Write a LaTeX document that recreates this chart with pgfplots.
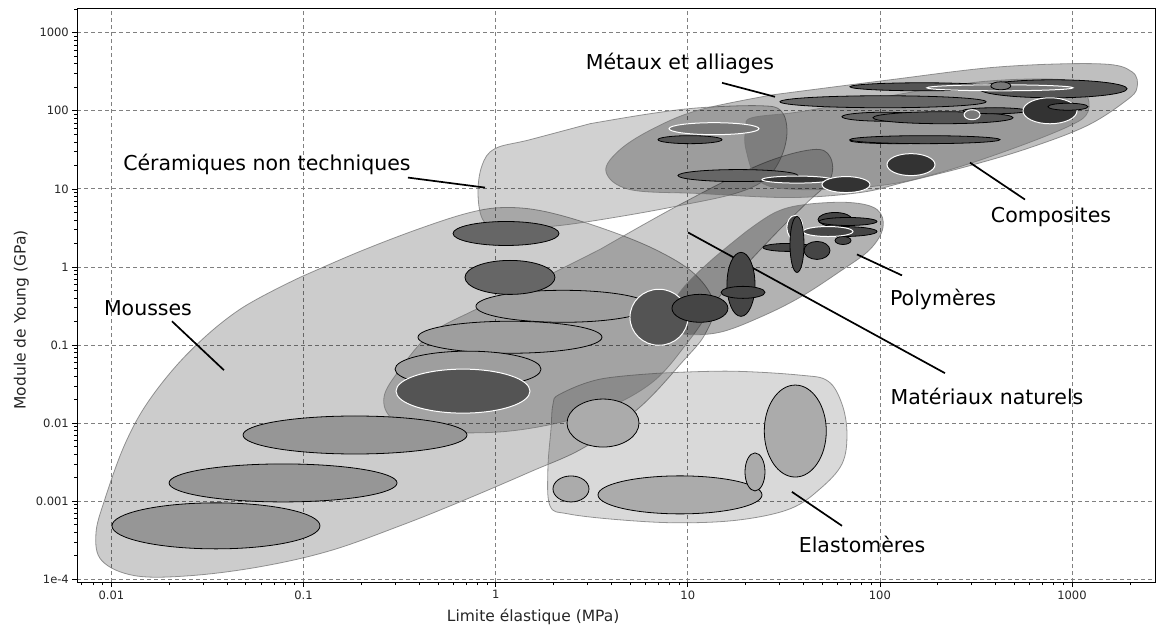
\documentclass[border=0pt]{standalone}
\usepackage{pgfplots}
\pgfplotsset{compat=1.18}
\usepackage{fontspec}
\setmainfont{DejaVu Sans}
\newcommand{\labfont}{\fontsize{20.5}{24}\selectfont}

\pgfdeclareplotmark{ell}{%
  \pgfpathellipse{\pgfpointorigin}{\pgfpoint{\ellA pt}{0pt}}{\pgfpoint{0pt}{\ellB pt}}%
  \pgfusepathqfillstroke}

\pgfplotsset{
  ellset/.style n args={3}{scatter, only marks, mark=ell,
    point meta=\thisrow{a},
    visualization depends on={\thisrow{a}\as\ellA},
    visualization depends on={\thisrow{b}\as\ellB},
    scatter/use mapped color={draw=#2, fill=#1, line width=#3}},
  env/.style={smooth, tension=0.6, mark=none, fill=black, fill opacity=#1,
    draw=black!55, draw opacity=0.75, line width=0.8pt},
  lab/.style={black, line width=1.7pt, mark=none},
}

\begin{document}
\begin{tikzpicture}
\begin{axis}[
  xmode=log, ymode=log,
  scale only axis, width=1077.7pt, height=573.5pt,
  xmin=0.00664, xmax=2704, ymin=9.2e-5, ymax=2042,
  point meta min=0, point meta max=200,
  xtick={0.01,0.1,1,10,100,1000},
  xticklabels={0.01,0.1,1,10,100,1000},
  ytick={1e-4,0.001,0.01,0.1,1,10,100,1000},
  yticklabels={1e-4,0.001,0.01,0.1,1,10,100,1000},
  minor xtick={0.007,0.008,0.009,0.02,0.03,0.04,0.05,0.06,0.07,0.08,0.09,0.2,0.3,0.4,0.5,0.6,0.7,0.8,0.9,2,3,4,5,6,7,8,9,20,30,40,50,60,70,80,90,200,300,400,500,600,700,800,900,2000},
  minor ytick={0.0002,0.0003,0.0004,0.0005,0.0006,0.0007,0.0008,0.0009,0.002,0.003,0.004,0.005,0.006,0.007,0.008,0.009,0.02,0.03,0.04,0.05,0.06,0.07,0.08,0.09,0.2,0.3,0.4,0.5,0.6,0.7,0.8,0.9,2,3,4,5,6,7,8,9,20,30,40,50,60,70,80,90,200,300,400,500,600,700,800,900,2000},
  grid=major,
  major grid style={dash pattern=on 4pt off 3pt, black!50, line width=0.7pt},
  tick align=outside, tick pos=left,
  major tick length=5pt, minor tick length=3pt,
  tick style={black, line width=0.6pt},
  axis line style={black, line width=0.8pt},
  ticklabel style={font=\fontsize{11.5}{13}\selectfont, text=black!85},
  xlabel={Limite élastique (MPa)},
  ylabel={Module de Young (GPa)},
  every axis x label/.style={at={(axis description cs:0.423,-0.061)}, anchor=center},
  every axis y label/.style={at={(axis description cs:-0.052,0.457)}, rotate=90, anchor=center},
  label style={font=\fontsize{15.5}{18}\selectfont, text=black!85},
]
% ---------------- envelopes
% Mousses
\addplot[env=0.2] coordinates {(0.0958,0.7345) (0.1966,1.579) (0.4036,3.107) (0.7347,4.975) (1.118,5.764) (1.805,5.124) (3.491,3.200) (6.751,1.675) (10.9,0.8023) (13.69,0.3319) (12.29,0.1372) (9.44,0.06199) (5.639,0.01602) (2.917,0.004935) (1.509,0.002364) (0.6519,0.0009779) (0.3176,0.0004826) (0.1372,0.0002312) (0.05929,0.0001443) (0.02563,0.0001108) (0.01325,0.0001108) (0.00892,0.0001722) (0.00830,0.0003814) (0.00925,0.001068) (0.01176,0.00539) (0.01587,0.02026) (0.02563,0.08323) (0.04666,0.2865) (0.0958,0.7345)} -- cycle;
% Elastomeres
\addplot[env=0.15] coordinates {(7.166,0.04355) (16.59,0.04619) (38.38,0.04108) (53.7,0.03442) (63.5,0.01749) (67.4,0.007235) (63.5,0.002992) (48.78,0.001434) (34.04,0.0007959) (18.70,0.0005757) (9.11,0.0005271) (4.437,0.0005757) (2.379,0.0006868) (1.918,0.0008694) (1.870,0.002583) (1.941,0.00838) (1.988,0.01749) (2.162,0.02348) (3.491,0.0365) (7.166,0.04355)} -- cycle;
% Materiaux naturels
\addplot[env=0.2] coordinates {(3.491,1.675) (9.11,6.297) (23.75,20.43) (44.32,31.77) (54.98,25.86) (54.98,13.14) (40.75,6.297) (26.79,2.247) (15.62,0.5162) (10.27,0.1185) (6.357,0.03151) (3.097,0.01303) (1.187,0.0079) (0.4550,0.0079) (0.2920,0.01125) (0.2622,0.02149) (0.3176,0.04899) (0.4550,0.1372) (0.7347,0.2623) (1.187,0.4455) (3.491,1.675)} -- cycle;
% Ceramiques non techniques
\addplot[env=0.18] coordinates {(3.097,68.31) (6.357,91.66) (11.57,109.4) (23.75,116.0) (30.56,100.1) (32.84,53.97) (30.56,25.11) (25.23,13.14) (17.61,8.71) (9.11,6.114) (4.437,4.423) (2.162,3.394) (1.118,3.017) (0.8693,3.818) (0.8091,8.453) (0.8486,19.84) (0.9918,32.72) (1.509,42.65) (3.097,68.31)} -- cycle;
% Polymeres
\addplot[env=0.3] coordinates {(19.86,2.762) (28.44,4.975) (40.75,6.297) (69.9,6.676) (96.6,5.436) (103.8,3.200) (88.8,1.675) (62.0,0.8764) (38.38,0.4077) (23.75,0.2263) (14.71,0.1456) (9.672,0.1372) (8.04,0.1687) (7.889,0.2473) (9.328,0.5162) (13.05,1.177) (19.86,2.762)} -- cycle;
% Metaux et alliages
\addplot[env=0.25] coordinates {(27.77,160.3) (112.9,249.2) (421.9,365.5) (1399,399.1) (2053,315.5) (2180,197.0) (1910,134.4) (1197,64.4) (604.4,33.7) (294.4,19.84) (131.9,12.03) (78.8,8.964) (34.04,7.736) (11.57,8.71) (5.003,9.79) (3.752,16.63) (4.437,31.77) (6.751,60.72) (11.57,103.1) (27.77,160.3)} -- cycle;
% Composites
\addplot[env=0.2] coordinates {(100.1,146.8) (331.9,235.0) (906.5,249.2) (1169,175.1) (1211,97.2) (976,64.4) (475.3,31.77) (205.5,16.15) (100.1,11.01) (38.38,9.79) (23.75,12.39) (20.09,31.77) (20.09,60.72) (21.59,81.5) (38.38,97.2) (100.1,146.8)} -- cycle;

% ---------------- material bubbles
% foams
\addplot[ellset={black!41}{black}{0.8pt}] table[x=x,y=y]{
x y a b
0.0350 4.82e-4 104 23
0.0782 1.71e-3 114 19
0.1853 7.03e-3 112 19
};
% elastomers
\addplot[ellset={black!33}{black}{0.8pt}] table[x=x,y=y]{
x y a b
3.62 0.0100 36 24
2.466 1.432e-3 18 13
9.11 1.202e-3 82 19
22.38 2.366e-3 10 19
36.28 7.9e-3 31 46
};
% natural, light
\addplot[ellset={black!38}{black}{0.8pt}] table[x=x,y=y]{
x y a b
2.239 0.313 87 16
1.187 0.1256 92 16
0.718 0.0490 73 18
};
% natural, mid
\addplot[ellset={black!60}{black}{0.8pt}] table[x=x,y=y]{
x y a b
1.132 2.68 53 12
1.187 0.734 45 17
};
% natural, dark, white outline
\addplot[ellset={black!67}{white}{1pt}] table[x=x,y=y]{
x y a b
0.676 0.02564 67 22
7.08 0.2265 29 28
};
% polymers
\addplot[ellset={black!73}{black}{0.8pt}] table[x=x,y=y]{
x y a b
11.57 0.295 28 14
18.92 0.598 14 32
19.39 0.472 22 6
33.24 1.778 25 4
63.5 2.84 35 5
47.06 1.626 13 9
58.4 4.05 17 7
68.2 3.82 29 4
64.3 2.18 8 4
};
\addplot[ellset={black!73}{white}{1pt}] table[x=x,y=y]{
x y a b
53.7 2.84 25 5
36.1 3.20 8 12
};
\addplot[ellset={black!73}{black}{0.8pt}] table[x=x,y=y]{
x y a b
37.03 1.941 7 28
};
% metals, ceramics, composites
\addplot[ellset={black!60}{black}{0.8pt}] table[x=x,y=y]{
x y a b
103.8 130.5 103 6
105.0 83.9 42 4.5
124.2 41.4 48 3
18.25 14.79 60 6
};
\addplot[ellset={black!67}{black}{0.8pt}] table[x=x,y=y]{
x y a b
165.6 202.9 72 4
797.3 191.3 74 9
213.1 81.5 70 6
397 100.1 32 3
171.7 42.66 75 4
10.27 42.66 32 4
};
\addplot[ellset={black!53}{white}{1pt}] table[x=x,y=y]{
x y a b
421.6 197.0 73 3
302 89.0 8 5
13.69 58.97 45 6
};
\addplot[ellset={black!53}{black}{0.8pt}] table[x=x,y=y]{
x y a b
426 208.9 10 4
};
\addplot[ellset={black!80}{white}{1pt}] table[x=x,y=y]{
x y a b
768.4 100 27 13
37.03 13.14 35 3.5
66.6 11.34 24 8
145.2 20.42 24 11
};
\addplot[ellset={black!67}{black}{0.8pt}] table[x=x,y=y]{
x y a b
952.6 112.7 20 3.5
};

% ---------------- labels
\addplot[lab] coordinates {(15.07,228.2) (28.44,151.1)};
\addplot[lab] coordinates {(0.3495,13.94) (0.8797,10.38)};
\addplot[lab] coordinates {(0.02065,0.2012) (0.03851,0.04757)};
\addplot[lab] coordinates {(294.4,21.67) (569.2,7.295)};
\addplot[lab] coordinates {(76.0,1.445) (130.3,0.7789)};
\addplot[lab] coordinates {(10.03,2.762) (218.2,0.04355)};
\addplot[lab] coordinates {(34.86,0.001313) (63.5,0.0004826)};

\node[font=\labfont, anchor=base] at (axis cs:0.01549,0.2401) {Mousses};
\node[font=\labfont, anchor=base] at (axis cs:0.06449,17.13) {Céramiques non techniques};
\node[font=\labfont, anchor=base] at (axis cs:9.11,334.6) {Métaux et alliages};
\node[font=\labfont, anchor=base] at (axis cs:777.6,3.707) {Composites};
\node[font=\labfont, anchor=base] at (axis cs:213.1,0.3224) {Polymères};
\node[font=\labfont, anchor=base] at (axis cs:361,0.01749) {Matériaux naturels};
\node[font=\labfont, anchor=base] at (axis cs:80.7,0.000218) {Elastomères};
\end{axis}
\path (current axis.south west) ++(-77.3pt,-51pt) rectangle ++(1158pt,633pt);
\end{tikzpicture}
\end{document}
